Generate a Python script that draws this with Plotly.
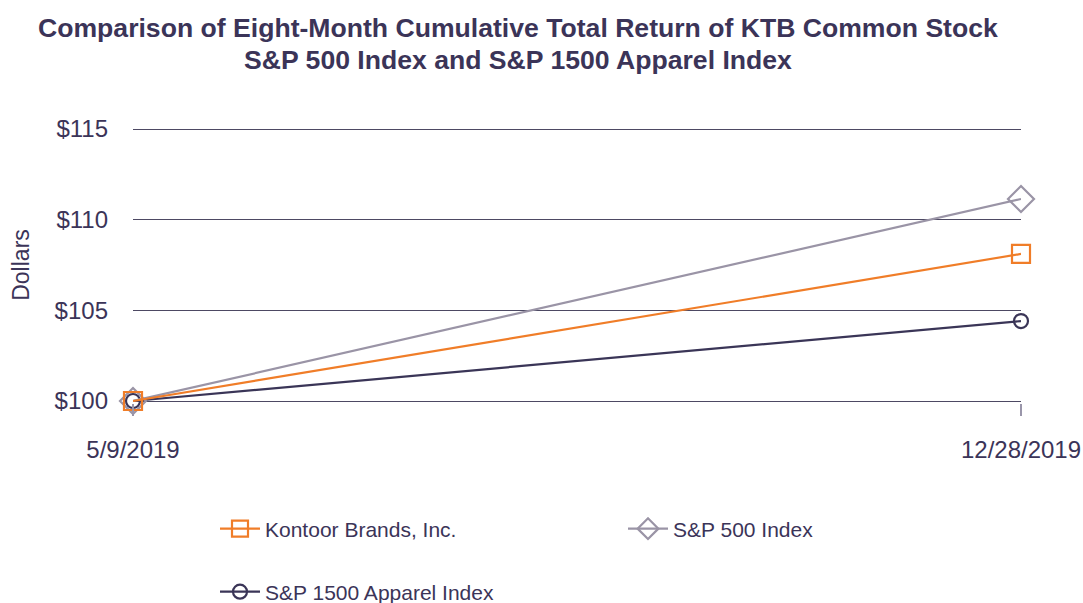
import plotly.graph_objects as go

dates = ["5/9/2019", "12/28/2019"]
kontoor = [100.0, 108.11]
sp500 = [100.0, 111.14]
apparel = [100.0, 104.41]
y_ticks = [100, 105, 110, 115]
y_tick_labels = ["$100", "$105", "$110", "$115"]
title_lines = ["Comparison of Eight-Month Cumulative Total Return of KTB Common Stock",
               "S&P 500 Index and S&P 1500 Apparel Index"]

TXT = "#3b3458"
ORANGE = "#f07d28"
GRAY = "#9a94a6"
NAVY = "#3a3557"
GRID = "#4d4963"
FONT = "Liberation Sans, Arial, sans-serif"

W, H = 1083, 603
L, R, T, B = 133, 1021, 129, 401
PAD = 2  # extra px so the edge gridlines are drawn
eps = PAD * 15 / (B - T)

fig = go.Figure()
fig.add_trace(go.Scatter(x=dates, y=apparel, name="S&P 1500 Apparel Index", mode="lines+markers",
                         line=dict(color=NAVY, width=2.2),
                         marker=dict(symbol="circle-open", size=14, line=dict(width=2.2, color=NAVY)),
                         cliponaxis=False, legend="legend2"))
fig.add_trace(go.Scatter(x=dates, y=sp500, name="S&P 500 Index", mode="lines+markers",
                         line=dict(color=GRAY, width=2.2), legendrank=2,
                         marker=dict(symbol="diamond-open", size=20, line=dict(width=2.2, color=GRAY)),
                         cliponaxis=False))
fig.add_trace(go.Scatter(x=dates, y=kontoor, name="Kontoor Brands, Inc.", mode="lines+markers",
                         line=dict(color=ORANGE, width=2.2), legendrank=1,
                         marker=dict(symbol="square-open", size=18, line=dict(width=2.2, color=ORANGE)),
                         cliponaxis=False))

annotations = []
for line, yc in zip(title_lines, [28, 60]):
    annotations.append(dict(text="<b>%s</b>" % line, xref="paper", yref="paper",
                            x=(518 - L) / (R - L), y=1 + (T - PAD - yc) / (B - T + 2 * PAD),
                            xanchor="center", yanchor="middle", showarrow=False,
                            font=dict(size=26.6, color=TXT, family=FONT)))

fig.update_layout(
    width=W, height=H,
    margin=dict(l=L, r=W - R, t=T - PAD, b=H - B - PAD, autoexpand=False),
    paper_bgcolor="white", plot_bgcolor="white",
    font=dict(family=FONT, color=TXT, size=24),
    annotations=annotations,
    xaxis=dict(type="category", range=[0, 1], showgrid=False, zeroline=False, showline=False,
               automargin=False,
               ticks="outside", ticklen=12, tickcolor="#9a96aa", tickwidth=2,
               ticklabelstandoff=13, tickfont=dict(size=24, color=TXT)),
    yaxis=dict(range=[100 - eps, 115 + eps], tickvals=y_ticks, ticktext=y_tick_labels,
               automargin=False,
               showgrid=True, gridcolor=GRID, gridwidth=1, zeroline=False, showline=False,
               ticks="", ticklabelstandoff=24, tickfont=dict(size=24, color=TXT),
               title=dict(text="Dollars", standoff=18, font=dict(size=23, color=TXT))),
    legend=dict(orientation="h", x=215 / W, xref="container", y=1 - 529 / H, yref="container",
                yanchor="middle", xanchor="left", entrywidth=353, font=dict(size=21, color=TXT),
                itemwidth=40, bgcolor="rgba(0,0,0,0)"),
    legend2=dict(orientation="h", x=215 / W, xref="container", y=1 - 592 / H, yref="container",
                 yanchor="middle", xanchor="left", font=dict(size=21, color=TXT),
                 itemwidth=40, bgcolor="rgba(0,0,0,0)"),
)

fig.write_html("out.html")
